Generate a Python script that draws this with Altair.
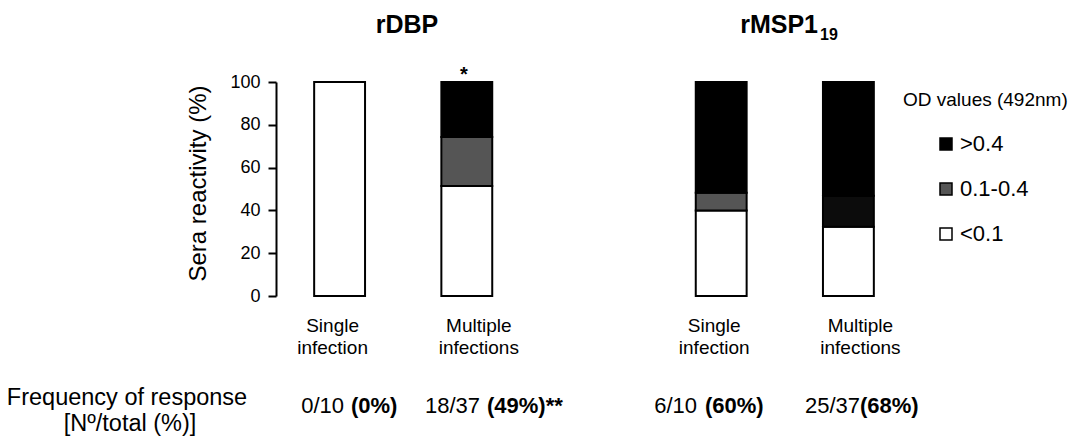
import altair as alt
import pandas as pd

# ---- data -------------------------------------------------------------
ANTIGENS = ["rDBP", "rDBP", "rMSP1", "rMSP1"]
GROUPS = ["Single", "Multiple", "Single", "Multiple"]
GROUP_TEXT = {"Single": "Single\ninfection", "Multiple": "Multiple\ninfections"}
LEVELS = [">0.4", "0.1-0.4", "<0.1"]            # legend order, top to bottom
PCT_LOW = [100.0, 51.4, 40.0, 32.4]             # OD < 0.1
PCT_MID = [0.0, 22.9, 8.3, 14.5]                # OD 0.1-0.4
PCT_HIGH = [0.0, 25.7, 51.7, 53.1]              # OD > 0.4
RESP_COUNT = ["0/10", "18/37", "6/10", "25/37"]
RESP_PCT = ["(0%)", "(49%)**", "(60%)", "(68%)"]
Y_TICKS = [0, 20, 40, 60, 80, 100]

# ---- layout -----------------------------------------------------------
FONT = "Liberation Sans"
W, H = 636, 214
PAD = {"left": 276, "top": 82, "right": 164, "bottom": 143}
GAP = " "
SLOTS = [f"{a} {g}" for a, g in zip(ANTIGENS[:2], GROUPS[:2])] + [GAP] + \
        [f"{a} {g}" for a, g in zip(ANTIGENS[2:], GROUPS[2:])]
FILLS = ["#000000", "#555555", "#ffffff"]

# stacked segments, lowest OD class at the bottom
rows = []
for a, g, lo, mid, hi in zip(ANTIGENS, GROUPS, PCT_LOW, PCT_MID, PCT_HIGH):
    base = 0.0
    for level, v in (("<0.1", lo), ("0.1-0.4", mid), (">0.4", hi)):
        if v > 0:
            rows.append({"slot": f"{a} {g}", "level": level, "y0": base, "y1": base + v})
            base += v
seg = pd.DataFrame(rows)

cats = pd.DataFrame({
    "slot": [f"{a} {g}" for a, g in zip(ANTIGENS, GROUPS)],
    "group": GROUPS,
    "label": [GROUP_TEXT[g] for g in GROUPS],
})

x_scale = alt.Scale(domain=SLOTS, paddingInner=0.6, paddingOuter=0.3)

bars = alt.Chart(seg).mark_bar(stroke="black", strokeWidth=2).encode(
    x=alt.X("slot:N", scale=x_scale,
            axis=alt.Axis(labels=False, ticks=False, title=None, grid=False,
                          domainWidth=2, domainColor="black")),
    y=alt.Y("y0:Q", scale=alt.Scale(domain=[0, 100], nice=False),
            axis=alt.Axis(values=Y_TICKS, grid=False, tickSize=8, tickWidth=2,
                          tickColor="black", domainWidth=2, domainColor="black",
                          labelFont=FONT, labelFontSize=18, labelColor="black",
                          labelPadding=8, title="Sera reactivity (%)",
                          titleFont=FONT, titleFontSize=24, titleFontWeight="normal",
                          titleColor="black", titlePadding=19, titleY=101)),
    y2="y1:Q",
    fill=alt.condition(
        "datum.slot == 'rMSP1 Multiple' && datum.level == '0.1-0.4'",
        alt.value("#0c0c0c"),
        alt.Fill("level:N", scale=alt.Scale(domain=LEVELS, range=FILLS), legend=None),
    ),
)


def cat_labels(group, dx):
    return alt.Chart(cats).transform_filter(f"datum.group == '{group}'").mark_text(
        font=FONT, fontSize=19, lineBreak="\n", lineHeight=22, align="center",
        baseline="alphabetic", dx=dx, color="black",
    ).encode(x=alt.X("slot:N", scale=x_scale, axis=None), y=alt.value(250), text="label:N")


star = alt.Chart(pd.DataFrame({"slot": ["rDBP Multiple"], "t": ["*"]})).mark_text(
    font=FONT, fontSize=20, fontWeight="bold", baseline="alphabetic", dx=-3, color="black"
).encode(x=alt.X("slot:N", scale=x_scale, axis=None), y=alt.value(-1), text="t:N")


def note(text, x, y, size, weight="normal", align="center", baseline="alphabetic"):
    return alt.Chart(pd.DataFrame({"t": [text]})).mark_text(
        font=FONT, fontSize=size, fontWeight=weight, align=align,
        baseline=baseline, color="black",
    ).encode(x=alt.value(x), y=alt.value(y), text="t:N")


layers = [bars, cat_labels("Single", -7), cat_labels("Multiple", 12), star]

# panel titles
layers.append(note("rDBP", 131, -49, 25, "bold"))
layers.append(note("rMSP1", 542, -49, 25, "bold", align="right"))
layers.append(note("19", 544, -42, 16, "bold", align="left"))

# response frequency row
SPLIT_NORMAL = [68, 204, 421, 584]
SPLIT_BOLD = [75, 211, 429, 584]
for cnt, pct, xn, xb in zip(RESP_COUNT, RESP_PCT, SPLIT_NORMAL, SPLIT_BOLD):
    layers.append(note(cnt, xn, 331, 22, align="right"))
    layers.append(note(pct, xb, 331, 22, "bold", align="left"))
layers.append(note("Frequency of response", -149, 323, 23.5))
layers.append(note("[Nº/total (%)]", -146, 349, 23.5))

# legend
layers.append(note("OD values (492nm)", 627, 18, 19, align="left", baseline="middle"))
for i, (lvl, col) in enumerate(zip(LEVELS, FILLS)):
    yy = 62 + 45 * i
    layers.append(
        alt.Chart(pd.DataFrame({"t": [lvl]})).mark_point(
            shape="square", filled=True, size=144, fill=col, stroke="black",
            strokeWidth=1.5, opacity=1,
        ).encode(x=alt.value(670), y=alt.value(yy))
    )
    layers.append(note(lvl, 684, yy, 22, align="left", baseline="middle"))

chart = alt.layer(*layers).properties(
    width=W, height=H, padding=PAD, autosize=alt.AutoSizeParams(type="none"),
    background="white",
).configure_view(stroke=None)

chart.save("out.html", embed_options={"renderer": "svg", "actions": False})
